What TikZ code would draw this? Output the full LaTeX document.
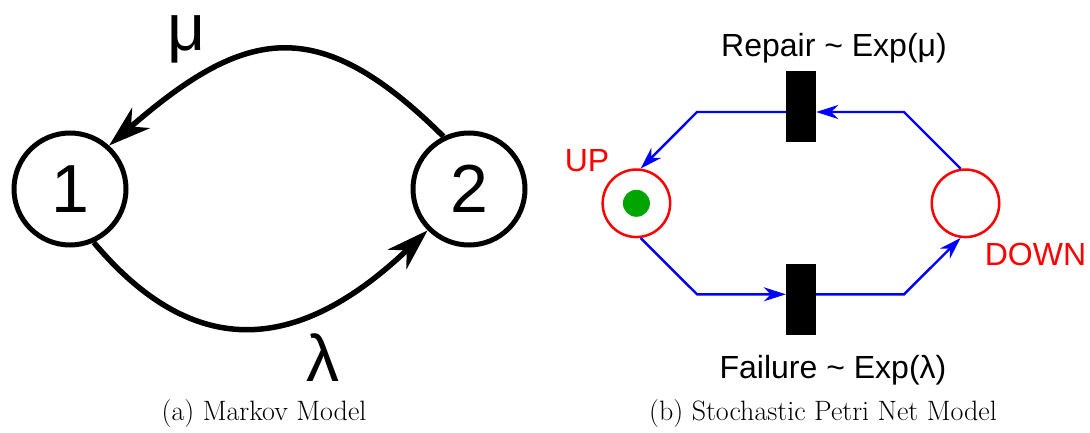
\documentclass[tikz,border=0pt]{standalone}
\usepackage{fontspec}
\newfontfamily\arialfont{Liberation Sans}
\usetikzlibrary{arrows.meta}
\definecolor{spnred}{RGB}{255,0,0}
\definecolor{spnblue}{RGB}{0,0,255}
\definecolor{tokgreen}{RGB}{0,165,0}
\begin{document}
\begin{tikzpicture}[x=1pt,y=1pt,
  state/.style={circle, draw, line width=5pt, minimum size=112pt, inner sep=0pt,
    font=\arialfont\fontsize{68}{72}\selectfont},
  mkarc/.style={line width=5.5pt, -{Stealth[length=42pt,width=27pt,inset=13pt]}},
  rate/.style={font=\arialfont\fontsize{66}{70}\selectfont, inner sep=0pt},
  place/.style={circle, draw=spnred, line width=2.5pt, minimum size=67.5pt, inner sep=0pt},
  token/.style={circle, fill=tokgreen, minimum size=27pt, inner sep=0pt},
  tbar/.style={fill=black, minimum width=30pt, minimum height=71pt, inner sep=0pt},
  parc/.style={draw=spnblue, line width=2.4pt, line join=miter,
    -{Stealth[length=22pt,width=14pt,inset=7pt]}},
  lbl/.style={font=\arialfont\fontsize{32}{36}\selectfont, inner sep=0pt, anchor=base},
  captext/.style={font=\fontsize{28}{33}\selectfont, inner sep=0pt, anchor=base}]
\useasboundingbox (0,0) rectangle (1090,432);

% ---- (a) Markov model ----
\node[state] (s1) at (70,243) {1};
\node[state] (s2) at (469,243) {2};
\draw[mkarc] (s2.116) .. controls (317.5,420.5) and (244.8,404.2) .. (s1.48);
\draw[mkarc] (s1.-66) .. controls (202.3,60.5) and (308.9,88.5) .. (s2.225);
\node[rate] (mu) at (186.7,393) {μ};
\node[rate] (lam) at (322.5,74.5) {λ};
\node[captext] (capa) at (264,12) {(a) Markov Model};

% ---- (b) Stochastic Petri net ----
\node[place] (up) at (636.4,228.7) {};
\node[token] (tok) at (up.center) {};
\node[place] (down) at (965.5,228.7) {};
\node[tbar] (rep) at (801,325.5) {};
\node[tbar] (fail) at (801,132.3) {};
\coordinate (tl) at (697,320);
\coordinate (tr) at (904,320);
\coordinate (bl) at (697,137.7);
\coordinate (br) at (904,137.7);

% repair: DOWN -> Repair -> UP
\draw[parc] (down.98) -- (tr) -- (rep.east |- tr);
\draw[parc] (rep.west |- tl) -- (tl) -- (up.83);
% failure: UP -> Failure -> DOWN
\draw[parc] (up.-83) -- (bl) -- (fail.west |- bl);
\draw[parc] (fail.east |- br) -- (br) -- (down.-98);

\node[lbl] (replbl) at (834,375.3) {Repair \textasciitilde{} Exp(μ)};
\node[lbl] (faillbl) at (833,53.7) {Failure \textasciitilde{} Exp(λ)};
\node[lbl, text=spnred] (uplbl) at (587,260.3) {UP};
\node[lbl, text=spnred] (downlbl) at (1035.5,167) {DOWN};
\node[captext] (capb) at (823,12) {(b) Stochastic Petri Net Model};
\end{tikzpicture}
\end{document}
